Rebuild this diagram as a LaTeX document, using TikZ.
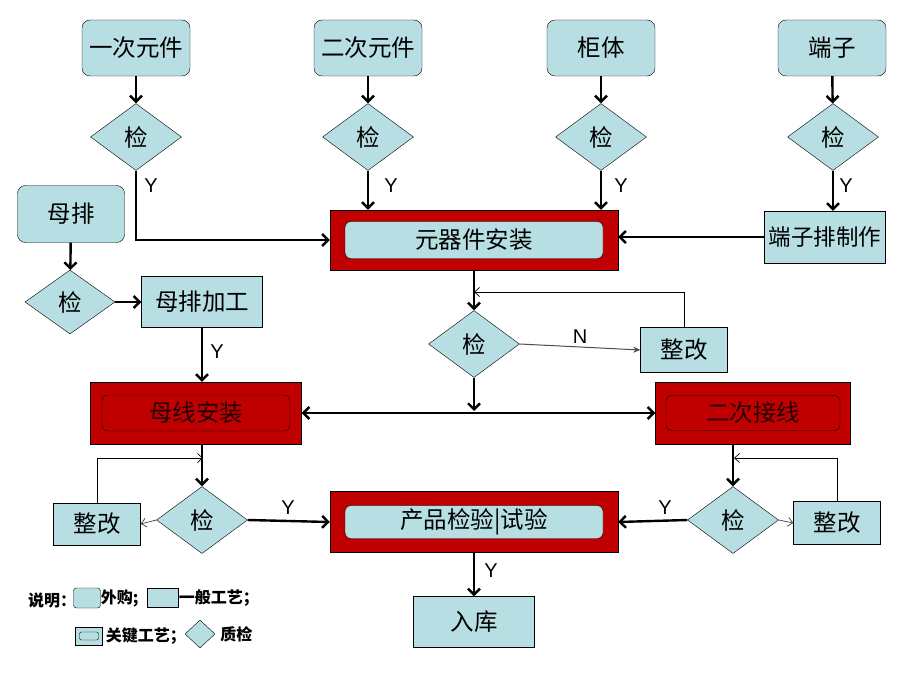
\documentclass[tikz,border=0pt]{standalone}
\usepackage{fontspec}
\setmainfont{Liberation Sans}
\newfontfamily\cjk{Noto Sans CJK SC}
\usetikzlibrary{shapes.geometric,arrows.meta}
\definecolor{boxblue}{RGB}{183,222,226}
\definecolor{keyred}{RGB}{192,0,0}
\begin{document}
\begin{tikzpicture}[x=1pt, y=-1pt,
        buy/.style={draw, fill=boxblue, rounded corners=8pt, inner sep=0pt,
            minimum width=108pt, minimum height=56pt, font=\cjk\fontsize{23.5}{27}\selectfont},
        work/.style={draw, fill=boxblue, inner sep=0pt, minimum width=121pt, minimum height=51pt,
            font=\cjk\fontsize{23.5}{27}\selectfont},
        check/.style={draw, diamond, fill=boxblue, inner sep=0pt, minimum width=91pt, minimum height=67pt,
            font=\cjk\fontsize{23.5}{27}\selectfont},
        key/.style={draw, fill=keyred, minimum width=288pt, minimum height=60pt},
        keyin/.style={draw, rounded corners=6pt, inner sep=0pt, font=\cjk\fontsize{23.5}{27}\selectfont},
        flow/.style={line width=2.4pt, -{Straight Barb[length=6pt,width=12pt]}},
        back/.style={line width=0.7pt, -{Straight Barb[length=5pt,width=9pt]}},
        yes/.style={font=\fontsize{20}{22}\selectfont},
        legend/.style={font=\cjk\bfseries\fontsize{16}{18}\selectfont, inner sep=0pt, anchor=west}]
    \useasboundingbox (0,0) rectangle (920,690);
    % bought-in parts
    \node [buy] (part1) at (136,48) {一次元件};
    \node [buy] (part2) at (368,48) {二次元件};
    \node [buy] (cab) at (601,48) {柜体};
    \node [buy] (term) at (832,48) {端子};
    \node [buy, minimum width=107pt, minimum height=57pt] (bar) at (71,214) {母排};
    \node [check] (q1) at (136,137) {检};
    \node [check] (q2) at (368,137) {检};
    \node [check] (q3) at (601,137) {检};
    \node [check] (q4) at (833,137) {检};
    \node [check, minimum width=90pt, minimum height=64pt] (qbar) at (70,302) {检};
    % processes
    \node [key] (asm) at (474,240) {};
    \node [keyin, fill=boxblue, minimum width=258pt, minimum height=37pt] at (asm) {元器件安装};
    \node [work, minimum height=52pt, font=\cjk\fontsize{22.5}{26}\selectfont] (tmake) at (825,237) {端子排制作};
    \node [work] (barwork) at (202,302) {母排加工};
    \node [check] (qasm) at (474,344) {检};
    \node [work, minimum width=87pt, minimum height=45pt] (fixasm) at (684,350) {整改};
    \node [key, minimum width=211pt, minimum height=62pt] (bus) at (196,413) {};
    \node [keyin, fill=keyred, text=black!85!red, minimum width=188pt, minimum height=36pt] at (bus) {母线安装};
    \node [key, minimum width=195pt, minimum height=62pt] (wire) at (753,413) {};
    \node [keyin, fill=keyred, text=black!85!red, minimum width=174pt, minimum height=35pt] at (wire) {二次接线};
    \node [check] (qbus) at (202,520) {检};
    \node [work, minimum width=87pt, minimum height=42pt] (fixbus) at (97,524) {整改};
    \node [check] (qwire) at (733,520) {检};
    \node [work, minimum width=87pt, minimum height=43pt] (fixwire) at (837,523) {整改};
    \node [key, minimum height=61pt] (test) at (474,522) {};
    \node [keyin, fill=boxblue, minimum width=258pt, minimum height=33pt] at (test) {产品检验|试验};
    \node [work] (store) at (474,622) {入库};
    % joints
    \coordinate (j1) at (474,292);
    \coordinate (j2) at (474,411);
    \coordinate (j3) at (203,458);
    \coordinate (j4) at (734,458);
    % upper flow
    \draw [flow] (part1) -- (q1);
    \draw [flow] (part2) -- (q2);
    \draw [flow] (cab) -- (q3);
    \draw [flow] (term) -- (q4);
    \draw [flow] (q1.south) |- (asm.west);
    \draw [flow] (q2.south) -- (q2.south |- asm.north);
    \draw [flow] (q3.south) -- (q3.south |- asm.north);
    \draw [flow] (q4.south) -- (q4.south |- tmake.north);
    \draw [flow] (tmake.west) -- (tmake.west -| asm.east);
    \node [yes] at (151,186) {Y};
    \node [yes] at (391,186) {Y};
    \node [yes] at (621,186) {Y};
    \node [yes] at (846,186) {Y};
    \draw [flow] (bar) -- (qbar);
    \draw [flow] (qbar) -- (barwork);
    \draw [flow] (barwork.south) -- (barwork.south |- bus.north);
    \node [yes] at (217,352) {Y};
    % component check
    \draw [flow] (asm.south) -- (qasm.north);
    \draw [line width=1pt, gray!60!black, -{Stealth[length=7pt,width=6pt]}] (qasm.east) -- (fixasm.west)
        node [midway, above, yes, text=black] {N};
    \draw [back] (fixasm.north) |- (j1);
    \draw [flow] (qasm.south) -- (j2);
    \draw [flow, {Straight Barb[length=6pt,width=12pt]}-{Straight Barb[length=6pt,width=12pt]}] (bus.east) -- (wire.west);
    % lower flow
    \draw [flow] (qbus.north |- bus.south) -- (qbus.north);
    \draw [back, gray!50!black] (qbus.west) -- (fixbus.east);
    \draw [back] (fixbus.north) |- (j3);
    \draw [flow] (qbus.east) -- (test.west);
    \node [yes] at (288,508) {Y};
    \draw [flow] (qwire.north |- wire.south) -- (qwire.north);
    \draw [back, gray!50!black] (qwire.east) -- (fixwire.west);
    \draw [back] (fixwire.north) |- (j4);
    \draw [flow] (qwire.west) -- (test.east);
    \node [yes] at (665,508) {Y};
    \draw [flow] (test.south) -- (store.north);
    \node [yes] at (491,571) {Y};
    % legend
    \node [legend] (lgtext) at (28,600) {说明：};
    \node [draw, fill=boxblue, rounded corners=3pt, minimum width=27pt, minimum height=20pt, inner sep=0pt] (lgbuy) at (87,598) {};
    \node [legend] at (lgbuy.east) {外购;};
    \node [draw, fill=boxblue, minimum width=31pt, minimum height=19pt, inner sep=0pt] (lgwork) at (163,598) {};
    \node [legend] at (lgwork.east) {一般工艺；};
    \node [draw, fill=boxblue, minimum width=27pt, minimum height=18pt, inner sep=0pt] (lgkey) at (89,636) {};
    \node [draw, rounded corners=2pt, minimum width=19pt, minimum height=8pt, inner sep=0pt] at (lgkey) {};
    \node [legend] at ([xshift=3pt]lgkey.east) {关键工艺；};
    \node [draw, diamond, fill=boxblue, minimum width=30pt, minimum height=28pt, inner sep=0pt] (lgcheck) at (200,634) {};
    \node [legend] at ([xshift=5pt]lgcheck.east) {质检};
\end{tikzpicture}
\end{document}
